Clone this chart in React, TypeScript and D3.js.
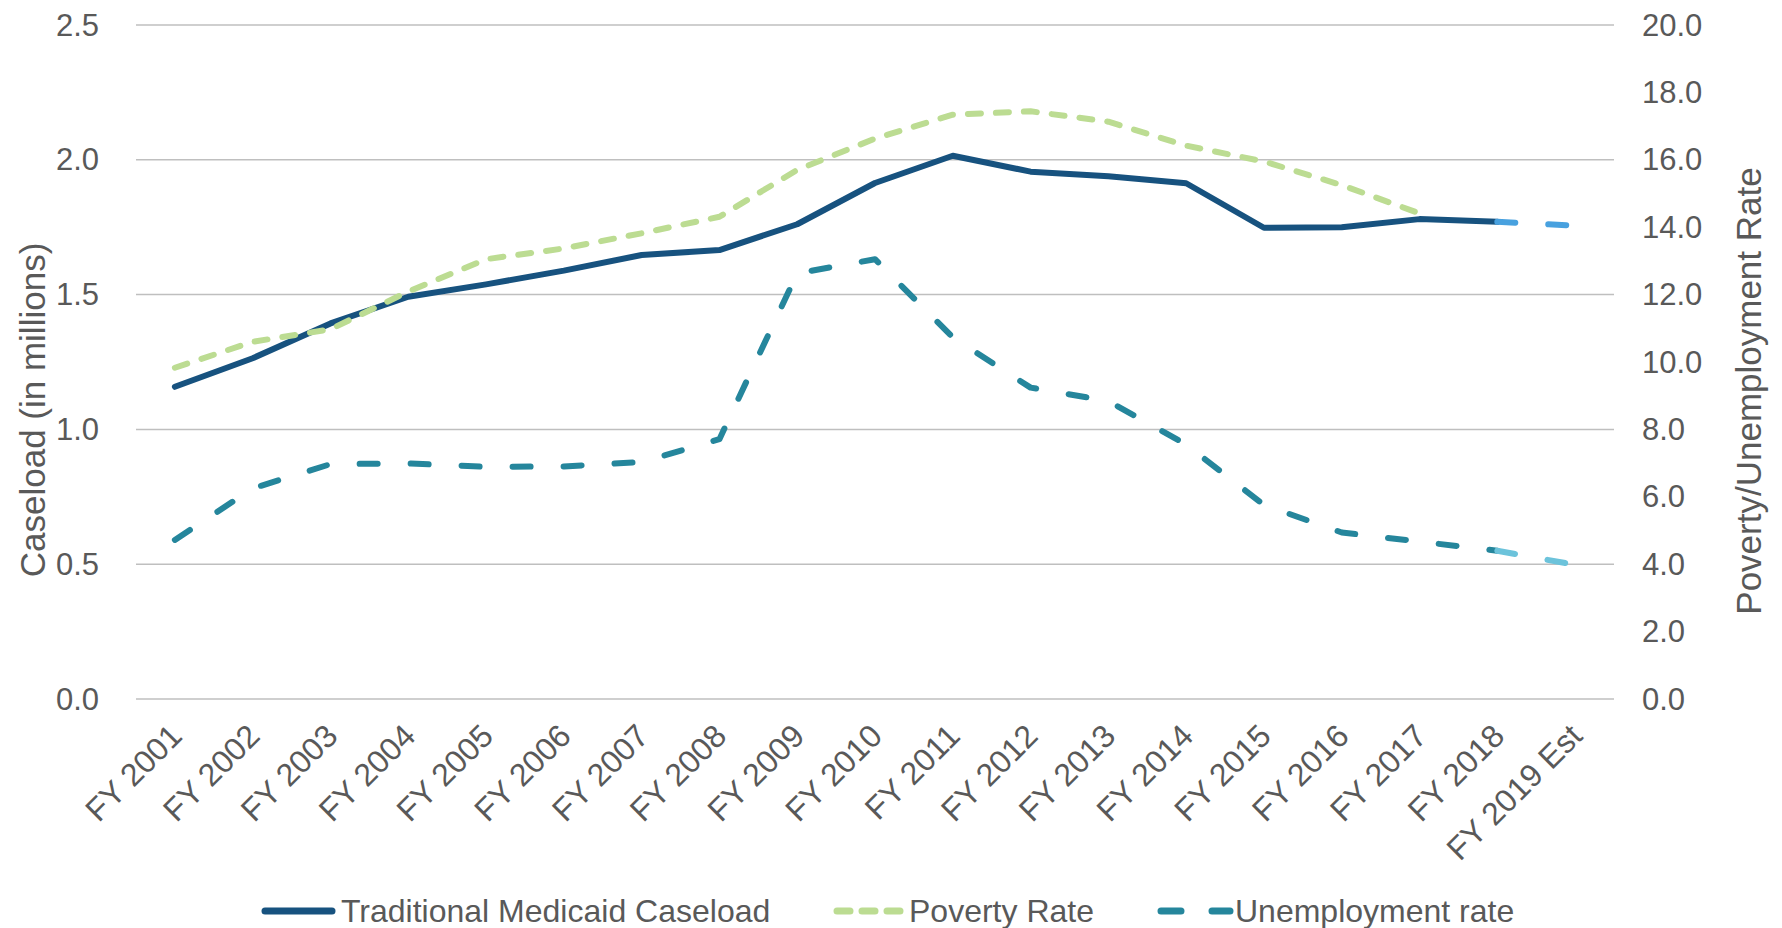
import React from "react";
import * as d3 from "d3";

const categories = [
  "FY 2001", "FY 2002", "FY 2003", "FY 2004", "FY 2005", "FY 2006", "FY 2007",
  "FY 2008", "FY 2009", "FY 2010", "FY 2011", "FY 2012", "FY 2013", "FY 2014",
  "FY 2015", "FY 2016", "FY 2017", "FY 2018", "FY 2019 Est",
];
const caseload = [1.158, 1.264, 1.393, 1.492, 1.538, 1.589, 1.647, 1.665, 1.761, 1.914, 2.015, 1.956, 1.939, 1.913, 1.748, 1.75, 1.78, 1.770, 1.756];
const poverty: (number | null)[] = [9.83, 10.6, 10.97, 12.09, 13.05, 13.37, 13.82, 14.31, 15.7, 16.63, 17.34, 17.44, 17.13, 16.42, 15.95, 15.25, 14.41, null, null];
const unemployment = [4.72, 6.25, 6.97, 6.99, 6.89, 6.9, 7.03, 7.71, 12.63, 13.05, 10.73, 9.24, 8.84, 7.55, 5.76, 4.94, 4.67, 4.4, 3.98];
const leftTicks = [0, 0.5, 1.0, 1.5, 2.0, 2.5];
const rightTicks = [0, 2, 4, 6, 8, 10, 12, 14, 16, 18, 20];
const forecastStart = 17;

const W = 1782;
const H = 928;
const FONT = "'Liberation Sans', Arial, sans-serif";
const TEXT = "#595959";
const C_CASE = "#17527f";
const C_CASE_F = "#48a1df";
const C_POV = "#bcdc92";
const C_UNEMP = "#25869c";
const C_UNEMP_F = "#6cc3db";

export default function App() {
  const x = d3.scalePoint<string>().domain(categories).range([136, 1614]).padding(0.5);
  const yL = d3.scaleLinear().domain([0, 2.5]).range([699, 25]);
  const yR = d3.scaleLinear().domain([0, 20]).range([699, 25]);

  type P = { c: string; v: number | null };
  const lineL = d3.line<P>().defined((d) => d.v != null).x((d) => x(d.c)!).y((d) => yL(d.v as number));
  const lineR = d3.line<P>().defined((d) => d.v != null).x((d) => x(d.c)!).y((d) => yR(d.v as number));

  const cs = categories.map((c, i) => ({ c, v: caseload[i] }));
  const ps = categories.map((c, i) => ({ c, v: poverty[i] }));
  const us = categories.map((c, i) => ({ c, v: unemployment[i] }));

  const common = { fill: "none", strokeWidth: 6, strokeLinecap: "round" as const, strokeLinejoin: "round" as const };
  const povDash = "13 15";
  const longDash = "18 33";

  const legendY = 911;

  return (
    <div style={{ position: "absolute", left: 0, top: 0 }}>
      <svg width={W} height={H} style={{ display: "block", background: "#fff" }} fontFamily={FONT}>
        {leftTicks.map((t) => (
          <line key={"g" + t} x1={136} x2={1614} y1={yL(t)} y2={yL(t)} stroke="#bfbfbf" strokeWidth={1.5} />
        ))}
        {leftTicks.map((t) => (
          <text key={"l" + t} x={99} y={yL(t)} textAnchor="end" dominantBaseline="central" fontSize={31} fill={TEXT}>
            {t.toFixed(1)}
          </text>
        ))}
        {rightTicks.map((t) => (
          <text key={"r" + t} x={1642} y={yR(t)} textAnchor="start" dominantBaseline="central" fontSize={31} fill={TEXT}>
            {t.toFixed(1)}
          </text>
        ))}
        {categories.map((c) => (
          <text
            key={c}
            transform={`translate(${x(c)! + 9},${738}) rotate(-45)`}
            textAnchor="end"
            fontSize={32}
            fill={TEXT}
          >
            {c}
          </text>
        ))}
        <text transform="translate(32,410) rotate(-90)" textAnchor="middle" dominantBaseline="central" fontSize={35} fill={TEXT}>
          Caseload (in millions)
        </text>
        <text transform="translate(1748,391) rotate(-90)" textAnchor="middle" dominantBaseline="central" fontSize={35} fill={TEXT}>
          Poverty/Unemployment Rate
        </text>

        {/* Caseload */}
        <path d={lineL(cs.slice(0, forecastStart + 1)) || ""} stroke={C_CASE} {...common} />
        <path d={lineL(cs.slice(forecastStart)) || ""} stroke={C_CASE_F} strokeDasharray={longDash} {...common} />
        {/* Poverty */}
        <path d={lineR(ps) || ""} stroke={C_POV} strokeDasharray={povDash} {...common} />
        {/* Unemployment */}
        <path d={lineR(us.slice(0, forecastStart + 1)) || ""} stroke={C_UNEMP} strokeDasharray={longDash} {...common} />
        <path d={lineR(us.slice(forecastStart)) || ""} stroke={C_UNEMP_F} strokeDasharray={longDash} {...common} />

        {/* Legend */}
        <line x1={265} x2={332} y1={legendY} y2={legendY} stroke={C_CASE} strokeWidth={7} strokeLinecap="round" />
        <text x={341} y={legendY} dominantBaseline="central" fontSize={32} fill={TEXT}>Traditional Medicaid Caseload</text>
        <line x1={837} x2={900} y1={legendY} y2={legendY} stroke={C_POV} strokeWidth={7} strokeLinecap="round" strokeDasharray="13 12" />
        <text x={909} y={legendY} dominantBaseline="central" fontSize={32} fill={TEXT}>Poverty Rate</text>
        <line x1={1161} x2={1230} y1={legendY} y2={legendY} stroke={C_UNEMP} strokeWidth={7} strokeLinecap="round" strokeDasharray="20 31" />
        <text x={1235} y={legendY} dominantBaseline="central" fontSize={32} fill={TEXT}>Unemployment rate</text>
      </svg>
    </div>
  );
}
